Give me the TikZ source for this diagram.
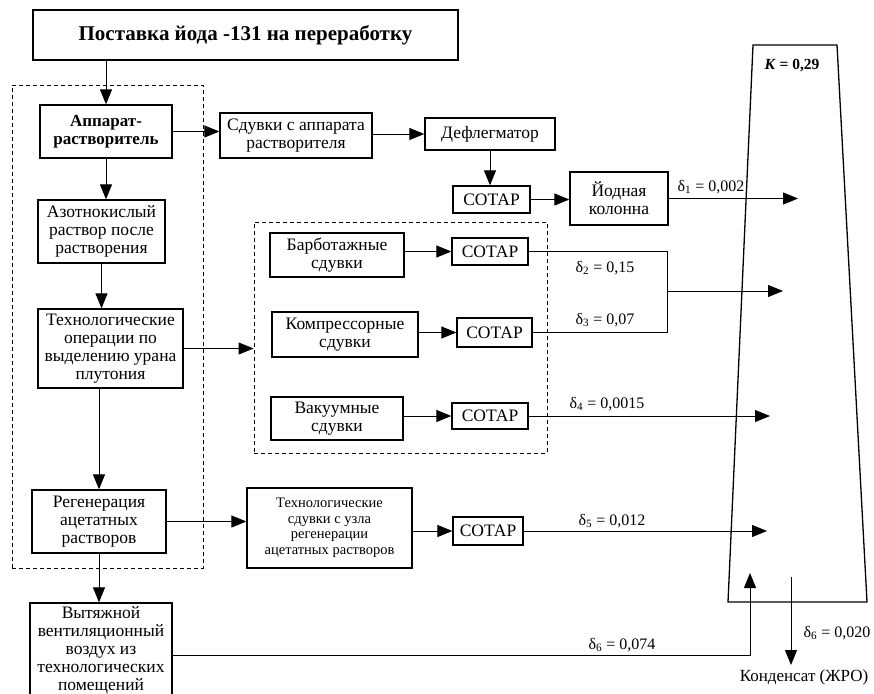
\documentclass[tikz,border=0pt]{standalone}
\usepackage{fontspec}
\setmainfont{Liberation Serif}
\usetikzlibrary{arrows.meta}
\usetikzlibrary{positioning}

\tikzset{
  box/.style={draw, line width=1.3pt, fill=white, align=center, inner sep=1pt,
              font=\fontsize{17.5}{18}\selectfont},
  grp/.style={draw, line width=0.9pt, dash pattern=on 4pt off 3pt},
  flow/.style={->, line width=1pt},
  lbl/.style={inner sep=1pt, font=\fontsize{16}{18}\selectfont},
}

\begin{document}
\begin{tikzpicture}[x=1pt, y=-1pt, >={Triangle[length=15pt,width=12pt]}]
	\useasboundingbox (0,0) rectangle (874,693);

	% dashed groups
	\node[grp, minimum width=191pt, minimum height=483pt] (left) at (107.5,326.5) {};
	\node[grp, minimum width=293pt, minimum height=231pt] (grp) at (400.5,337.5) {};

	% chimney
	\draw[line width=1.3pt] (753,45) -- (837,45) -- (867,602) -- (728,602) -- cycle;

	\begin{scope}[every node/.style={box}]
		\node[minimum width=425pt, minimum height=50pt, font=\fontsize{21}{23}\selectfont\bfseries] (title) at (245.5,35) {Поставка йода -131 на переработку};
		\node[minimum width=132pt, minimum height=53pt, font=\fontsize{17}{18}\selectfont\bfseries] (apparat) at (106,131.5) {Аппарат-\\растворитель};
		\node[minimum width=127pt, minimum height=63pt] (azot) at (101.5,231.5) {Азотнокислый\\раствор после\\растворения};
		\node[minimum width=145pt, minimum height=79pt] (techop) at (110.5,348.5) {Технологические\\операции по\\выделению урана\\плутония};
		\node[minimum width=134pt, minimum height=63pt] (regen) at (99,521.5) {Регенерация\\ацетатных\\растворов};
		\node[minimum width=142pt, minimum height=94pt] (vent) at (101,650) {Вытяжной\\вентиляционный\\воздух из\\технологических\\помещений};
		\node[minimum width=152pt, minimum height=45pt] (sduvki) at (296,135.5) {Сдувки с аппарата\\растворителя};
		\node[minimum width=130pt, minimum height=32pt] (defl) at (490,134) {Дефлегматор};
		\node[minimum width=77pt, minimum height=27pt] (sotar1) at (491.5,199.5) {СОТАР};
		\node[minimum width=98pt, minimum height=53pt] (iod) at (619,198.5) {Йодная\\колонна};
		\node[minimum width=134pt, minimum height=44pt] (barb) at (337,255) {Барботажные\\сдувки};
		\node[minimum width=76pt, minimum height=27pt] (sotar2) at (490,251.5) {СОТАР};
		\node[minimum width=146pt, minimum height=45pt] (komp) at (345,334.5) {Компрессорные\\сдувки};
		\node[minimum width=75pt, minimum height=29pt] (sotar3) at (494.5,332.5) {СОТАР};
		\node[minimum width=132pt, minimum height=43pt] (vak) at (337,418.5) {Вакуумные\\сдувки};
		\node[minimum width=76pt, minimum height=26pt] (sotar4) at (490,416) {СОТАР};
		\node[minimum width=165pt, minimum height=80pt, font=\fontsize{14.5}{15.5}\selectfont] (techsd) at (329.5,528) {Технологические\\сдувки с узла\\регенерации\\ацетатных растворов};
		\node[minimum width=70pt, minimum height=28pt] (sotar5) at (488,531) {СОТАР};
	\end{scope}

	% free ends inside the chimney
	\coordinate (d1) at (798,198.5);
	\coordinate (j23) at (667,291);
	\coordinate (d23) at (783,291);
	\coordinate (d4) at (770,416);
	\coordinate (d5) at (767,531);
	\coordinate (k6) at (750,655);
	\coordinate (d6) at (750,573);
	\coordinate (c0) at (791,577);
	\coordinate (c1) at (791,665);

	\begin{scope}[every edge/.style={draw=black, flow}]
		\path (title.south -| apparat.north) edge (apparat.north);
		\path (apparat.south) edge (apparat.south |- azot.north);
		\path (azot.south) edge (azot.south |- techop.north);
		\path (techop.south -| regen.north) edge (regen.north);
		\path (regen.south) edge (regen.south |- vent.north);
		\path (apparat.east) edge (apparat.east -| sduvki.west);
		\path (sduvki.east |- defl.west) edge (defl.west);
		\path (defl.south) edge (defl.south |- sotar1.north);
		\path (sotar1.east) edge (sotar1.east -| iod.west);
		\path (iod.east) edge (d1);
		\path (techop.east) edge (techop.east -| grp.west);
		\path (barb.east |- sotar2.west) edge (sotar2.west);
		\path (komp.east |- sotar3.west) edge (sotar3.west);
		\path (vak.east |- sotar4.west) edge (sotar4.west);
		\path (j23) edge (d23);
		\path (sotar4.east) edge (d4);
		\path (regen.east) edge (regen.east -| techsd.west);
		\path (techsd.east |- sotar5.west) edge (sotar5.west);
		\path (sotar5.east) edge (d5);
		\path (c0) edge (c1);
	\end{scope}
	\draw[line width=1pt] (sotar2.east) -| (j23 |- sotar3.east) -- (sotar3.east);
	\draw[flow] (vent.east |- k6) -- (k6) -- (d6);

	% labels
	\begin{scope}[every node/.style={lbl}]
		\node (l1) at (711,187) {δ\textsubscript{1} = 0,002};
		\node (l2) at (605,268) {δ\textsubscript{2} = 0,15};
		\node (l3) at (605,320) {δ\textsubscript{3} = 0,07};
		\node (l4) at (607,404) {δ\textsubscript{4} = 0,0015};
		\node (l5) at (612,521) {δ\textsubscript{5} = 0,012};
		\node (l6) at (622,645) {δ\textsubscript{6} = 0,074};
		\node (l7) at (837,633) {δ\textsubscript{6} = 0,020};
		\node[font=\fontsize{17}{19}\selectfont] (kond) at (804,677) {Конденсат (ЖРО)};
		\node[font=\fontsize{15.5}{17}\selectfont\bfseries] (kk) at (792,66) {\textit{К} = 0,29};
	\end{scope}
\end{tikzpicture}
\end{document}
